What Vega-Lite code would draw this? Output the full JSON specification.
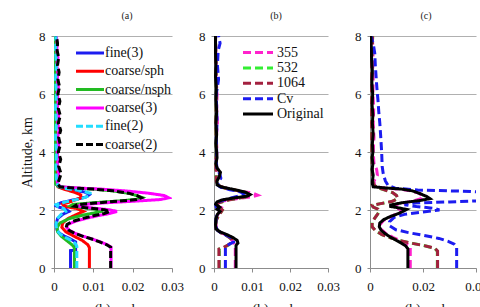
{
  "$schema": "https://vega.github.io/schema/vega-lite/v6.json",
  "autosize": {"type": "pad"},
  "padding": {"left": 20, "top": 11, "right": 0, "bottom": 0},
  "background": "white",
  "bounds": "flush",
  "spacing": 42,
  "config": {
    "font": "Liberation Serif, Times New Roman, serif",
    "view": {"stroke": null},
    "axis": {
      "labelFont": "Liberation Serif, Times New Roman, serif",
      "titleFont": "Liberation Serif, Times New Roman, serif",
      "labelFontSize": 13,
      "titleFontSize": 14,
      "titleFontWeight": "normal",
      "labelColor": "#111111",
      "titleColor": "#111111",
      "domainColor": "#8c8c8c",
      "tickColor": "#8c8c8c",
      "gridColor": "#b0b0b0",
      "gridWidth": 1.2,
      "tickSize": 4
    },
    "axisX": {"grid": false, "labelPadding": 8, "titlePadding": 9, "labelFlush": false},
    "axisY": {"grid": true, "labelPadding": 6, "tickSize": 3, "titlePadding": 4},
    "title": {"font": "Liberation Serif, Times New Roman, serif", "fontSize": 10, "fontWeight": "normal", "color": "#222222", "anchor": "middle", "frame": "group", "offset": 9},
    "legend": {
      "orient": "none",
      "title": null,
      "labelFont": "Liberation Serif, Times New Roman, serif",
      "labelFontSize": 14,
      "labelColor": "#111111",
      "symbolStrokeWidth": 3,
      "symbolSize": 100,
      "padding": 0
    }
  },
  "datasets": {
    "pa": [
      {"s":"fine(3)","h":0,"c":0.0042},{"s":"fine(3)","h":0.6,"c":0.0042},{"s":"fine(3)","h":0.62,"c":0.0055},{"s":"fine(3)","h":0.9,"c":0.0055},{"s":"fine(3)","h":1.0,"c":0.0042},{"s":"fine(3)","h":1.1,"c":0.0026},{"s":"fine(3)","h":1.2,"c":0.0014},{"s":"fine(3)","h":1.3,"c":0.0008},{"s":"fine(3)","h":1.5,"c":0.0005},{"s":"fine(3)","h":1.7,"c":0.0009},{"s":"fine(3)","h":1.85,"c":0.0022},{"s":"fine(3)","h":1.95,"c":0.0038},{"s":"fine(3)","h":2.03,"c":0.003},{"s":"fine(3)","h":2.1,"c":0.0012},{"s":"fine(3)","h":2.16,"c":0.0003},{"s":"fine(3)","h":2.25,"c":0.0018},{"s":"fine(3)","h":2.35,"c":0.005},{"s":"fine(3)","h":2.45,"c":0.0082},{"s":"fine(3)","h":2.53,"c":0.009},{"s":"fine(3)","h":2.62,"c":0.0078},{"s":"fine(3)","h":2.7,"c":0.004},{"s":"fine(3)","h":2.78,"c":0.0014},{"s":"fine(3)","h":2.9,"c":0.0006},{"s":"fine(3)","h":3.2,"c":0.0004},{"s":"fine(3)","h":3.6,"c":0.0006},{"s":"fine(3)","h":4,"c":0.0004},{"s":"fine(3)","h":4.5,"c":0.0005},{"s":"fine(3)","h":5,"c":0.0003},{"s":"fine(3)","h":5.5,"c":0.0004},{"s":"fine(3)","h":6,"c":0.0003},{"s":"fine(3)","h":6.5,"c":0.0004},{"s":"fine(3)","h":7,"c":0.0003},{"s":"fine(3)","h":7.5,"c":0.0003},{"s":"fine(3)","h":8,"c":0.0003},

      {"s":"coarse/sph","h":0,"c":0.009},{"s":"coarse/sph","h":0.7,"c":0.009},{"s":"coarse/sph","h":0.8,"c":0.0086},{"s":"coarse/sph","h":0.95,"c":0.0072},{"s":"coarse/sph","h":1.1,"c":0.005},{"s":"coarse/sph","h":1.25,"c":0.003},{"s":"coarse/sph","h":1.4,"c":0.002},{"s":"coarse/sph","h":1.55,"c":0.0022},{"s":"coarse/sph","h":1.7,"c":0.0035},{"s":"coarse/sph","h":1.85,"c":0.0058},{"s":"coarse/sph","h":1.95,"c":0.0075},{"s":"coarse/sph","h":2.05,"c":0.0058},{"s":"coarse/sph","h":2.13,"c":0.0025},{"s":"coarse/sph","h":2.2,"c":0.0022},{"s":"coarse/sph","h":2.3,"c":0.0045},{"s":"coarse/sph","h":2.42,"c":0.0068},{"s":"coarse/sph","h":2.52,"c":0.0068},{"s":"coarse/sph","h":2.62,"c":0.005},{"s":"coarse/sph","h":2.72,"c":0.0025},{"s":"coarse/sph","h":2.8,"c":0.001},{"s":"coarse/sph","h":3,"c":0.0005},{"s":"coarse/sph","h":3.5,"c":0.0004},{"s":"coarse/sph","h":4,"c":0.0004},{"s":"coarse/sph","h":5,"c":0.0003},{"s":"coarse/sph","h":6,"c":0.0003},{"s":"coarse/sph","h":7,"c":0.0003},{"s":"coarse/sph","h":8,"c":0.0003},

      {"s":"coarse/nsph","h":0,"c":0.0052},{"s":"coarse/nsph","h":0.7,"c":0.0052},{"s":"coarse/nsph","h":0.8,"c":0.0046},{"s":"coarse/nsph","h":0.95,"c":0.0032},{"s":"coarse/nsph","h":1.1,"c":0.0018},{"s":"coarse/nsph","h":1.25,"c":0.0009},{"s":"coarse/nsph","h":1.4,"c":0.0008},{"s":"coarse/nsph","h":1.55,"c":0.0015},{"s":"coarse/nsph","h":1.7,"c":0.0038},{"s":"coarse/nsph","h":1.83,"c":0.0075},{"s":"coarse/nsph","h":1.92,"c":0.011},{"s":"coarse/nsph","h":1.97,"c":0.0125},{"s":"coarse/nsph","h":2.03,"c":0.0105},{"s":"coarse/nsph","h":2.09,"c":0.0068},{"s":"coarse/nsph","h":2.14,"c":0.0042},{"s":"coarse/nsph","h":2.19,"c":0.0048},{"s":"coarse/nsph","h":2.25,"c":0.01},{"s":"coarse/nsph","h":2.31,"c":0.0165},{"s":"coarse/nsph","h":2.37,"c":0.0212},{"s":"coarse/nsph","h":2.43,"c":0.0224},{"s":"coarse/nsph","h":2.5,"c":0.021},{"s":"coarse/nsph","h":2.58,"c":0.0188},{"s":"coarse/nsph","h":2.66,"c":0.015},{"s":"coarse/nsph","h":2.72,"c":0.01},{"s":"coarse/nsph","h":2.76,"c":0.005},{"s":"coarse/nsph","h":2.8,"c":0.0012},{"s":"coarse/nsph","h":2.9,"c":0.0004},{"s":"coarse/nsph","h":3.2,"c":0.0002},{"s":"coarse/nsph","h":3.6,"c":0.0002},{"s":"coarse/nsph","h":4,"c":0.0003},{"s":"coarse/nsph","h":5,"c":0.0003},{"s":"coarse/nsph","h":6,"c":0.0002},{"s":"coarse/nsph","h":7,"c":0.0002},{"s":"coarse/nsph","h":8,"c":0.0002},

      {"s":"coarse(3)","h":0,"c":0.0145},{"s":"coarse(3)","h":0.72,"c":0.0145},{"s":"coarse(3)","h":0.8,"c":0.0136},{"s":"coarse(3)","h":0.9,"c":0.0118},{"s":"coarse(3)","h":1.0,"c":0.0097},{"s":"coarse(3)","h":1.1,"c":0.0073},{"s":"coarse(3)","h":1.2,"c":0.0053},{"s":"coarse(3)","h":1.3,"c":0.0039},{"s":"coarse(3)","h":1.4,"c":0.0032},{"s":"coarse(3)","h":1.5,"c":0.0035},{"s":"coarse(3)","h":1.6,"c":0.0052},{"s":"coarse(3)","h":1.7,"c":0.0078},{"s":"coarse(3)","h":1.8,"c":0.011},{"s":"coarse(3)","h":1.88,"c":0.0142},{"s":"coarse(3)","h":1.95,"c":0.016},{"s":"coarse(3)","h":2.01,"c":0.014},{"s":"coarse(3)","h":2.07,"c":0.0095},{"s":"coarse(3)","h":2.13,"c":0.0062},{"s":"coarse(3)","h":2.18,"c":0.0068},{"s":"coarse(3)","h":2.24,"c":0.012},{"s":"coarse(3)","h":2.3,"c":0.02},{"s":"coarse(3)","h":2.36,"c":0.027},{"s":"coarse(3)","h":2.42,"c":0.0292},{"s":"coarse(3)","h":2.5,"c":0.028},{"s":"coarse(3)","h":2.58,"c":0.024},{"s":"coarse(3)","h":2.66,"c":0.018},{"s":"coarse(3)","h":2.72,"c":0.012},{"s":"coarse(3)","h":2.76,"c":0.006},{"s":"coarse(3)","h":2.8,"c":0.0018},{"s":"coarse(3)","h":2.88,"c":0.001},{"s":"coarse(3)","h":3,"c":0.0008},{"s":"coarse(3)","h":3.25,"c":0.0012},{"s":"coarse(3)","h":3.5,"c":0.0008},{"s":"coarse(3)","h":3.75,"c":0.0011},{"s":"coarse(3)","h":4,"c":0.0008},{"s":"coarse(3)","h":4.25,"c":0.0012},{"s":"coarse(3)","h":4.5,"c":0.0009},{"s":"coarse(3)","h":4.75,"c":0.0013},{"s":"coarse(3)","h":5,"c":0.0009},{"s":"coarse(3)","h":5.25,"c":0.0012},{"s":"coarse(3)","h":5.5,"c":0.0008},{"s":"coarse(3)","h":5.75,"c":0.0011},{"s":"coarse(3)","h":6,"c":0.0008},{"s":"coarse(3)","h":6.25,"c":0.0011},{"s":"coarse(3)","h":6.5,"c":0.0008},{"s":"coarse(3)","h":6.75,"c":0.001},{"s":"coarse(3)","h":7,"c":0.0007},{"s":"coarse(3)","h":7.25,"c":0.001},{"s":"coarse(3)","h":7.5,"c":0.0007},{"s":"coarse(3)","h":7.75,"c":0.0008},{"s":"coarse(3)","h":8,"c":0.0006},

      {"s":"fine(2)","h":0,"c":0.0058},{"s":"fine(2)","h":0.75,"c":0.0058},{"s":"fine(2)","h":0.85,"c":0.0054},{"s":"fine(2)","h":0.95,"c":0.0045},{"s":"fine(2)","h":1.05,"c":0.003},{"s":"fine(2)","h":1.15,"c":0.0017},{"s":"fine(2)","h":1.3,"c":0.0007},{"s":"fine(2)","h":1.5,"c":0.0005},{"s":"fine(2)","h":1.7,"c":0.0008},{"s":"fine(2)","h":1.85,"c":0.0018},{"s":"fine(2)","h":1.95,"c":0.003},{"s":"fine(2)","h":2.05,"c":0.0025},{"s":"fine(2)","h":2.12,"c":0.001},{"s":"fine(2)","h":2.18,"c":0.0005},{"s":"fine(2)","h":2.28,"c":0.003},{"s":"fine(2)","h":2.4,"c":0.0072},{"s":"fine(2)","h":2.5,"c":0.0092},{"s":"fine(2)","h":2.58,"c":0.0092},{"s":"fine(2)","h":2.66,"c":0.007},{"s":"fine(2)","h":2.74,"c":0.003},{"s":"fine(2)","h":2.82,"c":0.0012},{"s":"fine(2)","h":2.95,"c":0.0006},{"s":"fine(2)","h":3.5,"c":0.0005},{"s":"fine(2)","h":4,"c":0.0006},{"s":"fine(2)","h":4.5,"c":0.0004},{"s":"fine(2)","h":5,"c":0.0006},{"s":"fine(2)","h":5.5,"c":0.0004},{"s":"fine(2)","h":6,"c":0.0006},{"s":"fine(2)","h":6.5,"c":0.0004},{"s":"fine(2)","h":7,"c":0.0006},{"s":"fine(2)","h":7.5,"c":0.0004},{"s":"fine(2)","h":8,"c":0.0005},

      {"s":"coarse(2)","h":0,"c":0.0144},{"s":"coarse(2)","h":0.72,"c":0.0144},{"s":"coarse(2)","h":0.8,"c":0.0134},{"s":"coarse(2)","h":0.9,"c":0.0116},{"s":"coarse(2)","h":1.0,"c":0.0096},{"s":"coarse(2)","h":1.1,"c":0.0072},{"s":"coarse(2)","h":1.2,"c":0.0052},{"s":"coarse(2)","h":1.3,"c":0.0038},{"s":"coarse(2)","h":1.4,"c":0.0031},{"s":"coarse(2)","h":1.5,"c":0.0033},{"s":"coarse(2)","h":1.6,"c":0.0046},{"s":"coarse(2)","h":1.7,"c":0.007},{"s":"coarse(2)","h":1.8,"c":0.01},{"s":"coarse(2)","h":1.88,"c":0.0128},{"s":"coarse(2)","h":1.95,"c":0.0142},{"s":"coarse(2)","h":2.01,"c":0.0128},{"s":"coarse(2)","h":2.07,"c":0.0085},{"s":"coarse(2)","h":2.13,"c":0.0052},{"s":"coarse(2)","h":2.18,"c":0.0058},{"s":"coarse(2)","h":2.24,"c":0.0105},{"s":"coarse(2)","h":2.3,"c":0.016},{"s":"coarse(2)","h":2.36,"c":0.021},{"s":"coarse(2)","h":2.42,"c":0.0222},{"s":"coarse(2)","h":2.5,"c":0.021},{"s":"coarse(2)","h":2.58,"c":0.019},{"s":"coarse(2)","h":2.66,"c":0.015},{"s":"coarse(2)","h":2.72,"c":0.01},{"s":"coarse(2)","h":2.76,"c":0.005},{"s":"coarse(2)","h":2.8,"c":0.0015},{"s":"coarse(2)","h":2.88,"c":0.001},{"s":"coarse(2)","h":3,"c":0.0012},{"s":"coarse(2)","h":3.25,"c":0.0018},{"s":"coarse(2)","h":3.5,"c":0.0012},{"s":"coarse(2)","h":3.75,"c":0.0017},{"s":"coarse(2)","h":4,"c":0.0011},{"s":"coarse(2)","h":4.25,"c":0.0016},{"s":"coarse(2)","h":4.5,"c":0.0012},{"s":"coarse(2)","h":4.75,"c":0.0017},{"s":"coarse(2)","h":5,"c":0.0011},{"s":"coarse(2)","h":5.25,"c":0.0016},{"s":"coarse(2)","h":5.5,"c":0.0011},{"s":"coarse(2)","h":5.75,"c":0.0015},{"s":"coarse(2)","h":6,"c":0.001},{"s":"coarse(2)","h":6.25,"c":0.0014},{"s":"coarse(2)","h":6.5,"c":0.001},{"s":"coarse(2)","h":6.75,"c":0.0013},{"s":"coarse(2)","h":7,"c":0.0009},{"s":"coarse(2)","h":7.25,"c":0.0012},{"s":"coarse(2)","h":7.5,"c":0.0008},{"s":"coarse(2)","h":7.75,"c":0.0009},{"s":"coarse(2)","h":8,"c":0.0006}
    ],
    "pb": [
      {"s":"355","h":0,"c":0.0056},{"s":"355","h":0.75,"c":0.0056},{"s":"355","h":0.85,"c":0.0052},{"s":"355","h":0.95,"c":0.0048},{"s":"355","h":1.05,"c":0.0042},{"s":"355","h":1.15,"c":0.003},{"s":"355","h":1.25,"c":0.0014},{"s":"355","h":1.35,"c":0.0006},{"s":"355","h":1.6,"c":0.0005},{"s":"355","h":1.8,"c":0.0008},{"s":"355","h":1.95,"c":0.0015},{"s":"355","h":2.05,"c":0.0025},{"s":"355","h":2.12,"c":0.0012},{"s":"355","h":2.2,"c":0.0004},{"s":"355","h":2.3,"c":0.0018},{"s":"355","h":2.38,"c":0.0055},{"s":"355","h":2.45,"c":0.0098},{"s":"355","h":2.51,"c":0.0115},{"s":"355","h":2.57,"c":0.0105},{"s":"355","h":2.64,"c":0.0075},{"s":"355","h":2.72,"c":0.0042},{"s":"355","h":2.8,"c":0.0018},{"s":"355","h":2.88,"c":0.0008},{"s":"355","h":3,"c":0.0006},{"s":"355","h":3.2,"c":0.0012},{"s":"355","h":3.4,"c":0.0005},{"s":"355","h":3.6,"c":0.0002},{"s":"355","h":3.8,"c":0.0006},{"s":"355","h":4,"c":0.0008},{"s":"355","h":4.5,"c":0.0006},{"s":"355","h":5,"c":0.0009},{"s":"355","h":5.5,"c":0.0007},{"s":"355","h":6,"c":0.0008},{"s":"355","h":6.5,"c":0.0006},{"s":"355","h":7,"c":0.0006},{"s":"355","h":7.5,"c":0.0005},{"s":"355","h":8,"c":0.0004},

      {"s":"532","h":0,"c":0.0014},{"s":"532","h":0.65,"c":0.0014},{"s":"532","h":0.7,"c":0.0025},{"s":"532","h":0.8,"c":0.0039},{"s":"532","h":0.9,"c":0.0048},{"s":"532","h":1.0,"c":0.0046},{"s":"532","h":1.1,"c":0.0035},{"s":"532","h":1.2,"c":0.002},{"s":"532","h":1.3,"c":0.0009},{"s":"532","h":1.45,"c":0.0004},{"s":"532","h":1.65,"c":0.0006},{"s":"532","h":1.8,"c":0.0012},{"s":"532","h":1.92,"c":0.0018},{"s":"532","h":2.0,"c":0.0022},{"s":"532","h":2.08,"c":0.0015},{"s":"532","h":2.15,"c":0.0006},{"s":"532","h":2.25,"c":0.0012},{"s":"532","h":2.35,"c":0.004},{"s":"532","h":2.45,"c":0.0082},{"s":"532","h":2.52,"c":0.0095},{"s":"532","h":2.6,"c":0.0085},{"s":"532","h":2.68,"c":0.0058},{"s":"532","h":2.76,"c":0.0028},{"s":"532","h":2.85,"c":0.001},{"s":"532","h":3,"c":0.0006},{"s":"532","h":3.5,"c":0.0005},{"s":"532","h":4,"c":0.0006},{"s":"532","h":5,"c":0.0005},{"s":"532","h":6,"c":0.0006},{"s":"532","h":7,"c":0.0005},{"s":"532","h":8,"c":0.0004},

      {"s":"1064","h":0,"c":0.0013},{"s":"1064","h":0.65,"c":0.0013},{"s":"1064","h":0.7,"c":0.0024},{"s":"1064","h":0.8,"c":0.0038},{"s":"1064","h":0.9,"c":0.0048},{"s":"1064","h":1.0,"c":0.0046},{"s":"1064","h":1.1,"c":0.0035},{"s":"1064","h":1.2,"c":0.002},{"s":"1064","h":1.3,"c":0.0009},{"s":"1064","h":1.45,"c":0.0004},{"s":"1064","h":1.65,"c":0.0006},{"s":"1064","h":1.8,"c":0.0012},{"s":"1064","h":1.92,"c":0.0018},{"s":"1064","h":2.0,"c":0.0022},{"s":"1064","h":2.08,"c":0.0015},{"s":"1064","h":2.15,"c":0.0006},{"s":"1064","h":2.25,"c":0.0012},{"s":"1064","h":2.35,"c":0.004},{"s":"1064","h":2.45,"c":0.0082},{"s":"1064","h":2.52,"c":0.0095},{"s":"1064","h":2.6,"c":0.0085},{"s":"1064","h":2.68,"c":0.0058},{"s":"1064","h":2.76,"c":0.0028},{"s":"1064","h":2.85,"c":0.001},{"s":"1064","h":3,"c":0.0006},{"s":"1064","h":3.5,"c":0.0005},{"s":"1064","h":4,"c":0.0006},{"s":"1064","h":5,"c":0.0005},{"s":"1064","h":6,"c":0.0006},{"s":"1064","h":7,"c":0.0005},{"s":"1064","h":8,"c":0.0004},

      {"s":"Cv","h":0,"c":0.003},{"s":"Cv","h":0.72,"c":0.003},{"s":"Cv","h":0.8,"c":0.0038},{"s":"Cv","h":0.9,"c":0.0052},{"s":"Cv","h":1.0,"c":0.0052},{"s":"Cv","h":1.1,"c":0.0038},{"s":"Cv","h":1.2,"c":0.002},{"s":"Cv","h":1.3,"c":0.0009},{"s":"Cv","h":1.45,"c":0.0004},{"s":"Cv","h":1.65,"c":0.0005},{"s":"Cv","h":1.85,"c":0.0008},{"s":"Cv","h":2.0,"c":0.0012},{"s":"Cv","h":2.1,"c":0.0006},{"s":"Cv","h":2.2,"c":0.0004},{"s":"Cv","h":2.3,"c":0.0015},{"s":"Cv","h":2.4,"c":0.004},{"s":"Cv","h":2.48,"c":0.0065},{"s":"Cv","h":2.56,"c":0.0078},{"s":"Cv","h":2.63,"c":0.0068},{"s":"Cv","h":2.7,"c":0.0042},{"s":"Cv","h":2.78,"c":0.0018},{"s":"Cv","h":2.86,"c":0.001},{"s":"Cv","h":2.95,"c":0.0012},{"s":"Cv","h":3.1,"c":0.0018},{"s":"Cv","h":3.25,"c":0.0015},{"s":"Cv","h":3.4,"c":0.0008},{"s":"Cv","h":3.7,"c":0.0006},{"s":"Cv","h":4,"c":0.0007},{"s":"Cv","h":4.5,"c":0.0006},{"s":"Cv","h":5,"c":0.0008},{"s":"Cv","h":5.5,"c":0.0007},{"s":"Cv","h":6,"c":0.0006},{"s":"Cv","h":6.5,"c":0.0012},{"s":"Cv","h":7,"c":0.0009},{"s":"Cv","h":7.5,"c":0.0011},{"s":"Cv","h":7.75,"c":0.0016},{"s":"Cv","h":8,"c":0.0012},

      {"s":"Original","h":0,"c":0.0058},{"s":"Original","h":0.78,"c":0.0058},{"s":"Original","h":0.86,"c":0.0063},{"s":"Original","h":0.95,"c":0.0061},{"s":"Original","h":1.05,"c":0.005},{"s":"Original","h":1.15,"c":0.0034},{"s":"Original","h":1.25,"c":0.0015},{"s":"Original","h":1.35,"c":0.0005},{"s":"Original","h":1.5,"c":0.0004},{"s":"Original","h":1.7,"c":0.0005},{"s":"Original","h":1.85,"c":0.0009},{"s":"Original","h":1.95,"c":0.0016},{"s":"Original","h":2.03,"c":0.0008},{"s":"Original","h":2.1,"c":0.0015},{"s":"Original","h":2.2,"c":0.0004},{"s":"Original","h":2.28,"c":0.0008},{"s":"Original","h":2.35,"c":0.0022},{"s":"Original","h":2.42,"c":0.0055},{"s":"Original","h":2.48,"c":0.0088},{"s":"Original","h":2.53,"c":0.0095},{"s":"Original","h":2.6,"c":0.0085},{"s":"Original","h":2.67,"c":0.0065},{"s":"Original","h":2.74,"c":0.004},{"s":"Original","h":2.8,"c":0.0018},{"s":"Original","h":2.87,"c":0.0008},{"s":"Original","h":3,"c":0.0008},{"s":"Original","h":3.15,"c":0.0014},{"s":"Original","h":3.3,"c":0.0017},{"s":"Original","h":3.45,"c":0.0008},{"s":"Original","h":3.6,"c":0.0005},{"s":"Original","h":3.8,"c":0.0008},{"s":"Original","h":4,"c":0.0007},{"s":"Original","h":4.3,"c":0.0005},{"s":"Original","h":4.6,"c":0.0007},{"s":"Original","h":5,"c":0.0005},{"s":"Original","h":5.4,"c":0.0007},{"s":"Original","h":5.8,"c":0.0005},{"s":"Original","h":6.2,"c":0.0006},{"s":"Original","h":6.6,"c":0.0004},{"s":"Original","h":7,"c":0.0005},{"s":"Original","h":7.4,"c":0.0004},{"s":"Original","h":7.7,"c":0.0004},{"s":"Original","h":8,"c":0.0004}
    ],
    "pc": [
      {"s":"355","h":0,"c":0.0152},{"s":"355","h":0.7,"c":0.0152},{"s":"355","h":0.8,"c":0.0145},{"s":"355","h":0.92,"c":0.012},{"s":"355","h":1.05,"c":0.0088},{"s":"355","h":1.2,"c":0.0058},{"s":"355","h":1.35,"c":0.004},{"s":"355","h":1.5,"c":0.0038},{"s":"355","h":1.65,"c":0.0052},{"s":"355","h":1.8,"c":0.0085},{"s":"355","h":1.92,"c":0.0115},{"s":"355","h":2.0,"c":0.012},{"s":"355","h":2.07,"c":0.01},{"s":"355","h":2.14,"c":0.0085},{"s":"355","h":2.22,"c":0.011},{"s":"355","h":2.3,"c":0.016},{"s":"355","h":2.4,"c":0.0195},{"s":"355","h":2.48,"c":0.02},{"s":"355","h":2.58,"c":0.0185},{"s":"355","h":2.66,"c":0.0155},{"s":"355","h":2.72,"c":0.011},{"s":"355","h":2.76,"c":0.0055},{"s":"355","h":2.8,"c":0.0018},{"s":"355","h":3,"c":0.0015},{"s":"355","h":3.2,"c":0.0028},{"s":"355","h":3.4,"c":0.0025},{"s":"355","h":3.6,"c":0.0015},{"s":"355","h":4,"c":0.0012},{"s":"355","h":4.5,"c":0.0015},{"s":"355","h":5,"c":0.0012},{"s":"355","h":5.5,"c":0.0014},{"s":"355","h":6,"c":0.0011},{"s":"355","h":6.5,"c":0.0012},{"s":"355","h":7,"c":0.001},{"s":"355","h":7.5,"c":0.0012},{"s":"355","h":8,"c":0.0008},

      {"s":"532","h":0,"c":0.0254},{"s":"532","h":0.58,"c":0.0254},{"s":"532","h":0.68,"c":0.0244},{"s":"532","h":0.76,"c":0.021},{"s":"532","h":0.85,"c":0.016},{"s":"532","h":0.95,"c":0.011},{"s":"532","h":1.05,"c":0.0075},{"s":"532","h":1.15,"c":0.0045},{"s":"532","h":1.28,"c":0.0022},{"s":"532","h":1.42,"c":0.0008},{"s":"532","h":1.58,"c":0.0008},{"s":"532","h":1.72,"c":0.0018},{"s":"532","h":1.85,"c":0.0028},{"s":"532","h":1.95,"c":0.0035},{"s":"532","h":2.03,"c":0.003},{"s":"532","h":2.1,"c":0.0012},{"s":"532","h":2.16,"c":0.0008},{"s":"532","h":2.22,"c":0.004},{"s":"532","h":2.3,"c":0.0085},{"s":"532","h":2.4,"c":0.0105},{"s":"532","h":2.5,"c":0.01},{"s":"532","h":2.6,"c":0.0085},{"s":"532","h":2.68,"c":0.006},{"s":"532","h":2.76,"c":0.0032},{"s":"532","h":2.85,"c":0.0015},{"s":"532","h":3,"c":0.001},{"s":"532","h":3.5,"c":0.0008},{"s":"532","h":4,"c":0.0007},{"s":"532","h":5,"c":0.0006},{"s":"532","h":6,"c":0.0006},{"s":"532","h":7,"c":0.0006},{"s":"532","h":7.5,"c":0.0008},{"s":"532","h":8,"c":0.001},

      {"s":"1064","h":0,"c":0.0255},{"s":"1064","h":0.58,"c":0.0255},{"s":"1064","h":0.68,"c":0.0245},{"s":"1064","h":0.76,"c":0.021},{"s":"1064","h":0.85,"c":0.016},{"s":"1064","h":0.95,"c":0.011},{"s":"1064","h":1.05,"c":0.0075},{"s":"1064","h":1.15,"c":0.0045},{"s":"1064","h":1.28,"c":0.0022},{"s":"1064","h":1.42,"c":0.0008},{"s":"1064","h":1.58,"c":0.0008},{"s":"1064","h":1.72,"c":0.0018},{"s":"1064","h":1.85,"c":0.0028},{"s":"1064","h":1.95,"c":0.0035},{"s":"1064","h":2.03,"c":0.003},{"s":"1064","h":2.1,"c":0.0012},{"s":"1064","h":2.16,"c":0.0008},{"s":"1064","h":2.22,"c":0.004},{"s":"1064","h":2.3,"c":0.0085},{"s":"1064","h":2.4,"c":0.0105},{"s":"1064","h":2.5,"c":0.01},{"s":"1064","h":2.6,"c":0.0085},{"s":"1064","h":2.68,"c":0.006},{"s":"1064","h":2.76,"c":0.0032},{"s":"1064","h":2.85,"c":0.0015},{"s":"1064","h":3,"c":0.001},{"s":"1064","h":3.5,"c":0.0008},{"s":"1064","h":4,"c":0.0007},{"s":"1064","h":5,"c":0.0006},{"s":"1064","h":6,"c":0.0006},{"s":"1064","h":7,"c":0.0006},{"s":"1064","h":7.5,"c":0.0008},{"s":"1064","h":8,"c":0.001},

      {"s":"Cv","h":0,"c":0.0327},{"s":"Cv","h":0.72,"c":0.0327},{"s":"Cv","h":0.82,"c":0.0318},{"s":"Cv","h":0.92,"c":0.0295},{"s":"Cv","h":1.02,"c":0.026},{"s":"Cv","h":1.12,"c":0.0205},{"s":"Cv","h":1.22,"c":0.0145},{"s":"Cv","h":1.32,"c":0.0098},{"s":"Cv","h":1.45,"c":0.0075},{"s":"Cv","h":1.6,"c":0.0074},{"s":"Cv","h":1.75,"c":0.0092},{"s":"Cv","h":1.85,"c":0.013},{"s":"Cv","h":1.93,"c":0.02},{"s":"Cv","h":2.0,"c":0.0262},{"s":"Cv","h":2.06,"c":0.024},{"s":"Cv","h":2.12,"c":0.0175},{"s":"Cv","h":2.18,"c":0.013},{"s":"Cv","h":2.24,"c":0.016},{"s":"Cv","h":2.28,"c":0.03},{"s":"Cv","h":2.33,"c":0.045},{"s":"Cv","h":2.45,"c":0.054},{"s":"Cv","h":2.57,"c":0.05},{"s":"Cv","h":2.64,"c":0.038},{"s":"Cv","h":2.69,"c":0.018},{"s":"Cv","h":2.75,"c":0.0095},{"s":"Cv","h":2.85,"c":0.0068},{"s":"Cv","h":3,"c":0.0058},{"s":"Cv","h":3.25,"c":0.005},{"s":"Cv","h":3.5,"c":0.0046},{"s":"Cv","h":3.75,"c":0.0045},{"s":"Cv","h":4,"c":0.0044},{"s":"Cv","h":4.3,"c":0.0042},{"s":"Cv","h":4.6,"c":0.004},{"s":"Cv","h":5,"c":0.0037},{"s":"Cv","h":5.4,"c":0.0033},{"s":"Cv","h":5.8,"c":0.003},{"s":"Cv","h":6.2,"c":0.0026},{"s":"Cv","h":6.6,"c":0.0023},{"s":"Cv","h":7,"c":0.002},{"s":"Cv","h":7.4,"c":0.0018},{"s":"Cv","h":7.7,"c":0.0013},{"s":"Cv","h":8,"c":0.0004},

      {"s":"Original","h":0,"c":0.0143},{"s":"Original","h":0.66,"c":0.0143},{"s":"Original","h":0.76,"c":0.0135},{"s":"Original","h":0.86,"c":0.0118},{"s":"Original","h":0.96,"c":0.0098},{"s":"Original","h":1.06,"c":0.0078},{"s":"Original","h":1.18,"c":0.0058},{"s":"Original","h":1.3,"c":0.0042},{"s":"Original","h":1.42,"c":0.0035},{"s":"Original","h":1.55,"c":0.0037},{"s":"Original","h":1.67,"c":0.0052},{"s":"Original","h":1.78,"c":0.0078},{"s":"Original","h":1.88,"c":0.0108},{"s":"Original","h":1.97,"c":0.0128},{"s":"Original","h":2.02,"c":0.0138},{"s":"Original","h":2.07,"c":0.011},{"s":"Original","h":2.12,"c":0.0078},{"s":"Original","h":2.17,"c":0.0078},{"s":"Original","h":2.25,"c":0.012},{"s":"Original","h":2.33,"c":0.019},{"s":"Original","h":2.39,"c":0.0226},{"s":"Original","h":2.46,"c":0.0215},{"s":"Original","h":2.56,"c":0.019},{"s":"Original","h":2.66,"c":0.016},{"s":"Original","h":2.72,"c":0.012},{"s":"Original","h":2.76,"c":0.006},{"s":"Original","h":2.8,"c":0.0012},{"s":"Original","h":2.9,"c":0.0009},{"s":"Original","h":3,"c":0.0009},{"s":"Original","h":3.2,"c":0.0012},{"s":"Original","h":3.4,"c":0.0008},{"s":"Original","h":3.6,"c":0.0011},{"s":"Original","h":3.8,"c":0.0008},{"s":"Original","h":4,"c":0.0011},{"s":"Original","h":4.3,"c":0.0009},{"s":"Original","h":4.6,"c":0.0012},{"s":"Original","h":5,"c":0.0009},{"s":"Original","h":5.3,"c":0.0011},{"s":"Original","h":5.6,"c":0.0008},{"s":"Original","h":6,"c":0.001},{"s":"Original","h":6.4,"c":0.0007},{"s":"Original","h":6.8,"c":0.0009},{"s":"Original","h":7.2,"c":0.0006},{"s":"Original","h":7.6,"c":0.0005},{"s":"Original","h":8,"c":0.0003}
    ]
  },
  "resolve": {
    "scale": {"color": "independent", "strokeDash": "independent"},
    "legend": {"color": "independent", "strokeDash": "independent"}
  },
  "hconcat": [
    {
      "width": 118,
      "height": 232,
      "title": {"text": "(a)", "dx": 14},
      "data": {"name": "pa"},
      "mark": {"type": "line", "strokeWidth": 3, "clip": true},
      "encoding": {
        "x": {"field": "c", "type": "quantitative", "scale": {"domain": [0, 0.03], "nice": false},
              "axis": {"values": [0, 0.01, 0.02, 0.03], "format": ".2~f", "title": "c(h), ppb"}},
        "y": {"field": "h", "type": "quantitative", "scale": {"domain": [0, 8], "nice": false},
              "axis": {"values": [0, 2, 4, 6, 8], "title": "Altitude, km"}},
        "order": {"field": "h", "type": "quantitative"},
        "color": {"field": "s", "type": "nominal",
                  "scale": {"domain": ["fine(3)", "coarse/sph", "coarse/nsph", "coarse(3)", "fine(2)", "coarse(2)"],
                            "range": ["#1c1cf0", "#ff0000", "#22bb22", "#ff00ff", "#22ddff", "#000000"]},
                  "legend": {"legendX": 29, "legendY": 10, "symbolType": "M-2.8,0H2.8", "labelOffset": 8, "rowPadding": 4.3}},
        "strokeDash": {"field": "s", "type": "nominal",
                       "scale": {"domain": ["fine(3)", "coarse/sph", "coarse/nsph", "coarse(3)", "fine(2)", "coarse(2)"],
                                 "range": [[1, 0], [1, 0], [1, 0], [1, 0], [7, 3], [7, 3]]},
                       "legend": {"legendX": 29, "legendY": 10, "symbolType": "M-2.8,0H2.8", "labelOffset": 8, "rowPadding": 4.3}}
      }
    },
    {
      "width": 114,
      "height": 232,
      "title": {"text": "(b)", "dx": 5},
      "data": {"name": "pb"},
      "mark": {"type": "line", "strokeWidth": 3, "clip": true},
      "encoding": {
        "x": {"field": "c", "type": "quantitative", "scale": {"domain": [0, 0.03], "nice": false},
              "axis": {"values": [0, 0.01, 0.02, 0.03], "format": ".2~f", "title": "c(h), ppb"}},
        "y": {"field": "h", "type": "quantitative", "scale": {"domain": [0, 8], "nice": false},
              "axis": {"values": [0, 2, 4, 6, 8], "title": null}},
        "order": {"field": "h", "type": "quantitative"},
        "color": {"field": "s", "type": "nominal",
                  "scale": {"domain": ["355", "532", "1064", "Cv", "Original"],
                            "range": ["#ff22cc", "#33ee33", "#a3203f", "#1c1cf0", "#000000"]},
                  "legend": {"legendX": 37, "legendY": 9.5, "symbolType": "M-3,0H3", "labelOffset": 12, "rowPadding": 1.4}},
        "strokeDash": {"field": "s", "type": "nominal",
                       "scale": {"domain": ["355", "532", "1064", "Cv", "Original"],
                                 "range": [[8, 4], [8, 4], [8, 4], [8, 4], [1, 0]]},
                       "legend": {"legendX": 37, "legendY": 9.5, "symbolType": "M-3,0H3", "labelOffset": 12, "rowPadding": 1.4}}
      }
    },
    {
      "width": 106,
      "height": 232,
      "title": {"text": "(c)", "dx": 3},
      "data": {"name": "pc"},
      "mark": {"type": "line", "strokeWidth": 3, "clip": true},
      "encoding": {
        "x": {"field": "c", "type": "quantitative", "scale": {"domain": [0, 0.04], "nice": false},
              "axis": {"values": [0, 0.02, 0.04], "format": ".2~f", "title": "c(h), ppb"}},
        "y": {"field": "h", "type": "quantitative", "scale": {"domain": [0, 8], "nice": false},
              "axis": {"values": [0, 2, 4, 6, 8], "title": null}},
        "order": {"field": "h", "type": "quantitative"},
        "color": {"field": "s", "type": "nominal",
                  "scale": {"domain": ["355", "532", "1064", "Cv", "Original"],
                            "range": ["#ff22cc", "#33ee33", "#a3203f", "#1c1cf0", "#000000"]},
                  "legend": null},
        "strokeDash": {"field": "s", "type": "nominal",
                       "scale": {"domain": ["355", "532", "1064", "Cv", "Original"],
                                 "range": [[8, 4], [8, 4], [8, 4], [8, 4], [1, 0]]},
                       "legend": null}
      }
    }
  ]
}
